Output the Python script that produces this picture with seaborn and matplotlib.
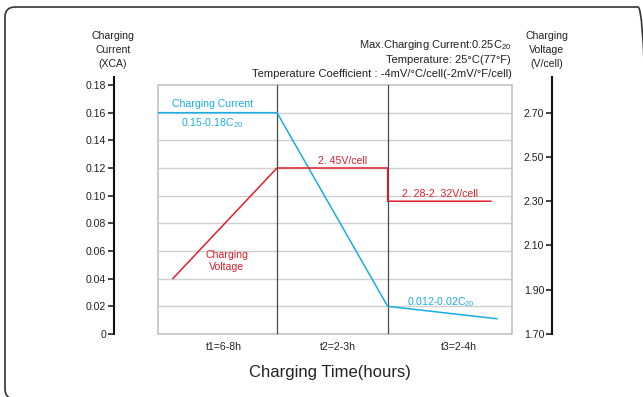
import matplotlib
matplotlib.use("Agg")
import matplotlib.pyplot as plt
import seaborn as sns
import pandas as pd
from matplotlib.patches import FancyBboxPatch, Rectangle
from matplotlib.ticker import FixedLocator, FixedFormatter

# ---------------- data ----------------
phase_edges = [0.0, 1.0, 1.93, 2.975]
phase_labels = ["t1=6-8h", "t2=2-3h", "t3=2-4h"]
phase_label_x = [0.55, 1.51, 2.53]

current_x = [0.0, 1.0, 1.93, 2.85]
current_y = [0.16, 0.16, 0.02, 0.011]

voltage_x = [0.124, 1.0, 1.93, 1.93, 2.80]
voltage_y = [1.95, 2.45, 2.45, 2.30, 2.30]

current_ticks = [0, 0.02, 0.04, 0.06, 0.08, 0.10, 0.12, 0.14, 0.16, 0.18]
current_tick_labels = ["0", "0.02", "0.04", "0.06", "0.08", "0.10", "0.12", "0.14", "0.16", "0.18"]
voltage_ticks = [1.70, 1.90, 2.10, 2.30, 2.50, 2.70]
voltage_tick_labels = ["1.70", "1.90", "2.10", "2.30", "2.50", "2.70"]

V0 = 1.70
V_PER_A = 6.25  # volts per current unit (shared vertical scale)

# ---------------- style ----------------
sns.set_theme(style="white")
REG = ["Liberation Sans", "DejaVu Sans"]
plt.rcParams["font.family"] = REG
SMALL = 7.6

BLUE = "#19ade6"
RED = "#e0202c"
TXT = "#222222"
W, H = 643, 397

fig = plt.figure(figsize=(W / 100, H / 100), dpi=100)
fig.patch.set_facecolor("white")

def fx(x):
    return x / W

def fy(y):
    return 1 - y / H

# main axes = plot box
L, R, T, B = 158, 512, 85, 334
ax = fig.add_axes([fx(L), fy(B), fx(R) - fx(L), (B - T) / H])
ax.set_xlim(phase_edges[0], phase_edges[-1])
ax.set_ylim(0, 0.18)
ax.set_facecolor("white")

# grid
for v in current_ticks[1:-1]:
    ax.axhline(v, color="#cfcfcf", lw=1.0, zorder=1)
# box
ax.add_patch(Rectangle((0, 0), 1, 1, transform=ax.transAxes, fill=False,
                       edgecolor="#bdbdbd", lw=1.1, clip_on=False, zorder=1.5))
# phase boundaries
for e in phase_edges[1:-1]:
    ax.axvline(e, color="#4a4a4a", lw=0.9, zorder=2)

# current line
df_c = pd.DataFrame({"x": current_x, "y": current_y})
sns.lineplot(data=df_c, x="x", y="y", ax=ax, color=BLUE, lw=1.1,
             sort=False, estimator=None, zorder=3)

# left axis spine
for s in ["top", "right", "bottom"]:
    ax.spines[s].set_visible(False)
ax.spines["left"].set_position(("axes", (114 - L) / (R - L)))
ax.spines["left"].set_color("#111111")
ax.spines["left"].set_linewidth(1.5)
ax.spines["left"].set_bounds(0, 0.1855)
ax.yaxis.set_major_locator(FixedLocator(current_ticks))
ax.yaxis.set_major_formatter(FixedFormatter(current_tick_labels))
ax.tick_params(axis="y", which="major", left=True, direction="out", length=4,
               width=1.1, color="#111111", pad=1.5, labelsize=SMALL, labelcolor=TXT)
ax.set_xticks([])
ax.set_xlabel("")
ax.set_ylabel("")

# right (voltage) axis
ax2 = ax.twinx()
ax2.set_ylim(V0, V0 + 0.18 * V_PER_A)
df_v = pd.DataFrame({"x": voltage_x, "y": voltage_y})
sns.lineplot(data=df_v, x="x", y="y", ax=ax2, color=RED, lw=1.1,
             sort=False, estimator=None, zorder=3)
for s in ["top", "right", "bottom"]:
    ax2.spines[s].set_visible(False)
ax2.spines["left"].set_visible(True)
ax2.spines["left"].set_position(("axes", (552 - L) / (R - L)))
ax2.spines["left"].set_color("#111111")
ax2.spines["left"].set_linewidth(1.5)
ax2.spines["left"].set_bounds(V0, 2.862)
ax2.yaxis.set_ticks_position("left")
ax2.yaxis.set_label_position("left")
ax2.yaxis.set_major_locator(FixedLocator(voltage_ticks))
ax2.yaxis.set_major_formatter(FixedFormatter(voltage_tick_labels))
ax2.tick_params(axis="y", which="major", left=True, right=False, labelleft=True,
                labelright=False, direction="out", length=4, width=1.1,
                color="#111111", pad=1.5, labelsize=SMALL, labelcolor=TXT)
ax2.set_xticks([])
ax2.set_xlabel("")
ax2.set_ylabel("")
ax2.patch.set_visible(False)

# phase labels
for lx, lt in zip(phase_label_x, phase_labels):
    ax.text(lx, -0.0095, lt, ha="center", va="center", fontsize=SMALL,
            color=TXT, clip_on=False)

# x label
fig.text(fx(330), fy(372), "Charging Time(hours)", ha="center", va="center",
         fontsize=12, color=TXT)

# axis titles
fig.text(fx(113), fy(50), "Charging\nCurrent\n(XCA)", ha="center", va="center",
         fontsize=SMALL, color=TXT, linespacing=1.45)
fig.text(fx(547), fy(50), "Charging\nVoltage\n(V/cell)", ha="center", va="center",
         fontsize=SMALL, color=TXT, linespacing=1.45)

# top-right notes
fig.text(fx(512), fy(45), r"Max.Charging Current:0.25C$\mathregular{_{20}}$",
         ha="right", va="center", fontsize=8, color=TXT)
fig.text(fx(511), fy(60), "Temperature: 25°C(77°F)", ha="right", va="center",
         fontsize=8, color=TXT)
fig.text(fx(512), fy(74), "Temperature Coefficient : -4mV/°C/cell(-2mV/°F/cell)",
         ha="right", va="center", fontsize=8.1, color=TXT)

# in-plot annotations
ax.text(0.462, 0.1663, "Charging Current", ha="center", va="center",
        fontsize=SMALL, color=BLUE)
ax.text(0.454, 0.1526, r"0.15-0.18C$\mathregular{_{20}}$", ha="center", va="center",
        fontsize=SMALL, color=BLUE)
ax.text(2.378, 0.0232, r"0.012-0.02C$\mathregular{_{20}}$", ha="center", va="center",
        fontsize=SMALL, color=BLUE)
ax.text(1.555, 0.1253, "2. 45V/cell", ha="center", va="center",
        fontsize=SMALL, color=RED)
ax.text(2.37, 0.1015, "2. 28-2. 32V/cell", ha="center", va="center",
        fontsize=SMALL, color=RED)
ax.text(0.58, 0.0528, "Charging\nVoltage", ha="center", va="center",
        fontsize=SMALL, color=RED, linespacing=1.3)

# outer rounded frame (pixel coordinates)
frame = FancyBboxPatch((5, -2), 643, 392, boxstyle="round,pad=0,rounding_size=10",
                       transform=None, fill=False, edgecolor="#333333", lw=1.2)
fig.patches.append(frame)

fig.savefig("out.png", dpi=100)
